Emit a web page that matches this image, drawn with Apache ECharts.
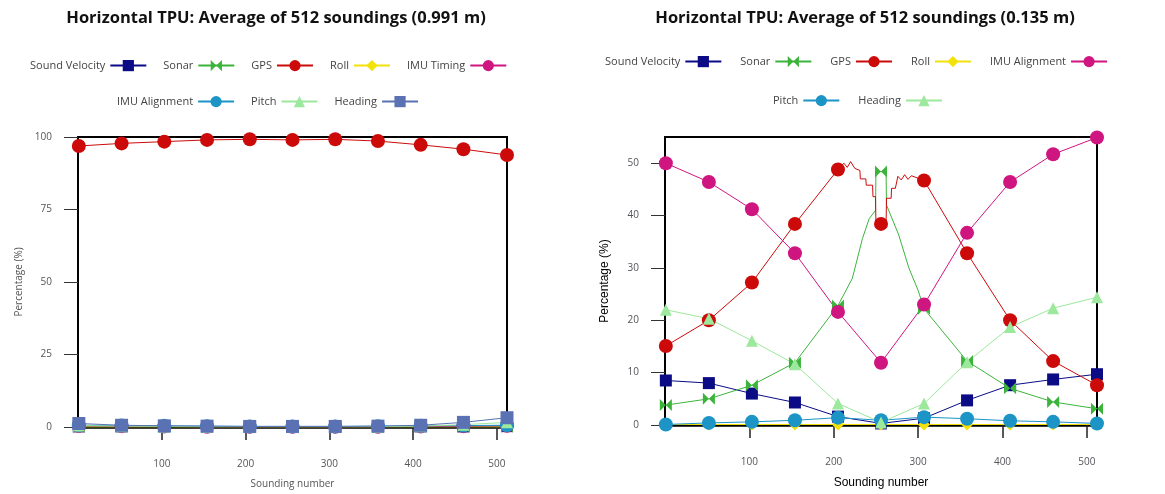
<!DOCTYPE html>
<html>
<head>
<meta charset="utf-8">
<script src="https://cdn.jsdelivr.net/npm/echarts@6/dist/echarts.min.js"></script>
<style>
  html, body { margin: 0; padding: 0; background: #fff; }
  #wrap { position: relative; width: 1165px; height: 494px; }
  #left { position: absolute; left: 0; top: 0; width: 583px; height: 494px; }
  #right { position: absolute; left: 583px; top: 0; width: 582px; height: 494px; }
</style>
</head>
<body>
<div id="wrap"><div id="left"></div><div id="right"></div></div>
<script>
// Sounding numbers where each component is sampled (markers)
const soundings = [1, 52, 103, 154, 205, 256, 307, 358, 409, 460, 512];

// Left panel: TPU contributions in percent (average 0.991 m)
const leftTitle = 'Horizontal TPU: Average of 512 soundings (0.991 m)';
const leftNames = ['Sound Velocity', 'Sonar', 'GPS', 'Roll', 'IMU Timing', 'IMU Alignment', 'Pitch', 'Heading'];
const leftSoundVelocity = [0.2, 0.2, 0.2, 0.1, 0.1, 0.1, 0.1, 0.1, 0.2, 0.2, 0.3];
const leftSonar         = [0.1, 0.1, 0.1, 0.1, 0.1, 0.1, 0.1, 0.1, 0.1, 0.1, 0.1];
const leftGPS           = [96.9, 97.8, 98.4, 99.0, 99.2, 99.0, 99.2, 98.6, 97.3, 95.8, 93.8];
const leftRoll          = [0.0, 0.0, 0.0, 0.0, 0.0, 0.0, 0.0, 0.0, 0.0, 0.0, 0.0];
const leftIMUTiming     = [0.4, 0.3, 0.2, 0.1, 0.1, 0.1, 0.1, 0.1, 0.2, 0.3, 0.4];
const leftIMUAlignment  = [0.6, 0.5, 0.4, 0.3, 0.2, 0.2, 0.2, 0.3, 0.4, 0.5, 0.6];
const leftPitch         = [0.5, 0.3, 0.2, 0.1, 0.1, 0.1, 0.1, 0.1, 0.3, 0.8, 1.6];
const leftHeading       = [1.2, 0.6, 0.4, 0.3, 0.2, 0.2, 0.2, 0.3, 0.6, 1.6, 3.2];

// Right panel: TPU contributions in percent (average 0.135 m)
const rightTitle = 'Horizontal TPU: Average of 512 soundings (0.135 m)';
const rightNames = ['Sound Velocity', 'Sonar', 'GPS', 'Roll', 'IMU Alignment', 'Pitch', 'Heading'];
const rightSoundVelocity = [8.5, 8.0, 6.0, 4.3, 1.6, 0.3, 1.3, 4.7, 7.6, 8.7, 9.7];
const rightSonar         = [3.8, 5.0, 7.6, 11.9, 22.8, 48.4, 22.2, 12.2, 7.0, 4.4, 3.1];
const rightGPS           = [15.1, 20.0, 27.2, 38.4, 48.8, 38.4, 46.7, 32.8, 20.0, 12.2, 7.6];
const rightRoll          = [0.1, 0.1, 0.1, 0.1, 0.1, 0.1, 0.1, 0.1, 0.1, 0.1, 0.1];
const rightIMUAlignment  = [50.0, 46.4, 41.2, 32.8, 21.6, 11.9, 23.0, 36.7, 46.4, 51.7, 54.9];
const rightPitch         = [0.1, 0.4, 0.6, 0.9, 1.4, 0.9, 1.5, 1.2, 0.8, 0.6, 0.3];
const rightHeading       = [22.0, 20.3, 16.1, 11.6, 4.1, 0.5, 4.1, 12.0, 18.7, 22.3, 24.4];

// Unmarked intermediate soundings around the nadir region (right panel)
const rightGPSExtraX = [212, 216, 220, 225, 231, 231.5, 238, 238.5, 246, 246.5, 249.5, 250, 262, 262.5, 268, 268.5, 273, 276, 280, 284, 288, 292];
const rightGPSExtraY = [50.0, 49.2, 50.3, 49.0, 48.6, 47.0, 47.0, 45.8, 45.8, 43.6, 43.6, 38.4, 38.4, 43.3, 43.3, 45.2, 45.2, 47.5, 46.8, 47.8, 46.9, 47.6];
const rightSonarExtraX = [222, 234, 242, 249.5, 250, 262, 262.5, 277, 289, 300];
const rightSonarExtraY = [28.0, 35.6, 39.4, 41.0, 48.4, 48.4, 42.0, 36.3, 30.0, 25.7];

const FONT = '"Open Sans", "Noto Sans", sans-serif';
const bowtie = 'path://M0,0L5,5L0,10Z M10,0L5,5L10,10Z';

// Marker styles by series slot
const styles = [
  { color: '#0b0b86', symbol: 'rect', size: 12 },
  { color: '#3cb43c', symbol: bowtie, size: 12 },
  { color: '#cc0a0a', symbol: 'circle', size: 14 },
  { color: '#f2e20a', symbol: 'diamond', size: 12 },
  { color: '#cf1580', symbol: 'circle', size: 14 },
  { color: '#1c94c6', symbol: 'circle', size: 14 },
  { color: '#9ce89c', symbol: 'triangle', size: 12 },
  { color: '#5a72b4', symbol: 'rect', size: 13 }
];

function markedPoints(values, extraX, extraY) {
  const pts = soundings.map((x, i) => [x, values[i]]);
  if (extraX) {
    extraX.forEach((x, i) => pts.push({ value: [x, extraY[i]], symbol: 'none' }));
    pts.sort((a, b) => (Array.isArray(a) ? a[0] : a.value[0]) - (Array.isArray(b) ? b[0] : b.value[0]));
  }
  return pts;
}

// plain line series (library defaults for animation and clipping)
function makeSeries(name, values, style, extraX, extraY) {
  return {
    name: name,
    type: 'line',
    data: markedPoints(values, extraX, extraY),
    symbol: style.symbol,
    symbolSize: style.size,
    color: style.color,
    lineStyle: { width: 1, color: style.color },
    itemStyle: { color: style.color }
  };
}

function axes(yMax, yInterval, hideTopLabel, styled) {
  const nameStyle = styled ? { nameTextStyle: { fontFamily: FONT, fontSize: 10, color: '#555' } } : {};
  const labelColor = styled ? { color: '#555' } : {};
  return {
    xAxis: Object.assign({
      type: 'value', min: 0, max: 512, interval: 100,
      name: 'Sounding number', nameLocation: 'middle', nameGap: 52,
      axisLine: { show: true, lineStyle: { color: '#000', width: 2.5 } },
      axisTick: { show: true, length: 13, lineStyle: { color: '#222', width: 1.5 } },
      axisLabel: Object.assign({ showMinLabel: false, showMaxLabel: false, margin: 32, fontFamily: FONT, fontSize: 10 }, labelColor),
      splitLine: { show: false }
    }, nameStyle),
    yAxis: Object.assign({
      type: 'value', min: 0, max: yMax, interval: yInterval,
      name: 'Percentage (%)', nameLocation: 'middle', nameGap: 54,
      axisLine: { show: true, lineStyle: { color: '#000', width: 2 } },
      axisTick: { show: true, length: 14, lineStyle: { color: '#333', width: 1 } },
      axisLabel: Object.assign({ showMaxLabel: !hideTopLabel, margin: 26, fontFamily: FONT, fontSize: 10 }, labelColor),
      splitLine: { show: false }
    }, nameStyle)
  };
}

function legendRow(names, left, top, gap) {
  return {
    data: names, left: left, top: top, orient: 'horizontal', align: 'right',
    itemWidth: 36, itemHeight: 14, itemGap: gap,
    textStyle: { fontFamily: FONT, fontSize: 11, color: '#444' },
    selectedMode: false
  };
}

// Left chart
const leftChart = echarts.init(document.getElementById('left'));
const leftValues = [leftSoundVelocity, leftSonar, leftGPS, leftRoll, leftIMUTiming, leftIMUAlignment, leftPitch, leftHeading];
// draw order: GPS above the small contributions
const leftOrder = [0, 1, 3, 4, 5, 6, 7, 2];
leftChart.setOption(Object.assign({
  title: { text: leftTitle, left: 271, top: 5, textAlign: 'center',
    textStyle: { fontFamily: FONT, fontSize: 16.5, fontWeight: 'bold', color: '#111' } },
  legend: [legendRow(leftNames.slice(0, 5), 25, 55, 16), legendRow(leftNames.slice(5), 112, 91, 16)],
  grid: { left: 78, right: 76, top: 137, bottom: 66, show: true, borderColor: '#000', borderWidth: 2 },
  series: leftOrder.map(i => makeSeries(leftNames[i], leftValues[i], styles[i]))
}, axes(100, 25, false, true)));

// Right chart
const rightChart = echarts.init(document.getElementById('right'));
const rightValues = [rightSoundVelocity, rightSonar, rightGPS, rightRoll, rightIMUAlignment, rightPitch, rightHeading];
const rightSeries = rightNames.map((n, i) => {
  if (n === 'GPS') return makeSeries(n, rightValues[i], styles[i], rightGPSExtraX, rightGPSExtraY);
  if (n === 'Sonar') return makeSeries(n, rightValues[i], styles[i], rightSonarExtraX, rightSonarExtraY);
  return makeSeries(n, rightValues[i], styles[i]);
});
rightChart.setOption(Object.assign({
  title: { text: rightTitle, left: 277, top: 5, textAlign: 'center',
    textStyle: { fontFamily: FONT, fontSize: 16.5, fontWeight: 'bold', color: '#111' } },
  legend: [legendRow(rightNames.slice(0, 5), 17, 51, 18), legendRow(rightNames.slice(5), 185, 90, 18)],
  grid: { left: 82, right: 68, top: 137, bottom: 64, show: true, borderColor: '#000', borderWidth: 2 },
  series: rightSeries
}, axes(55, 10, true, false)));
</script>
</body>
</html>
